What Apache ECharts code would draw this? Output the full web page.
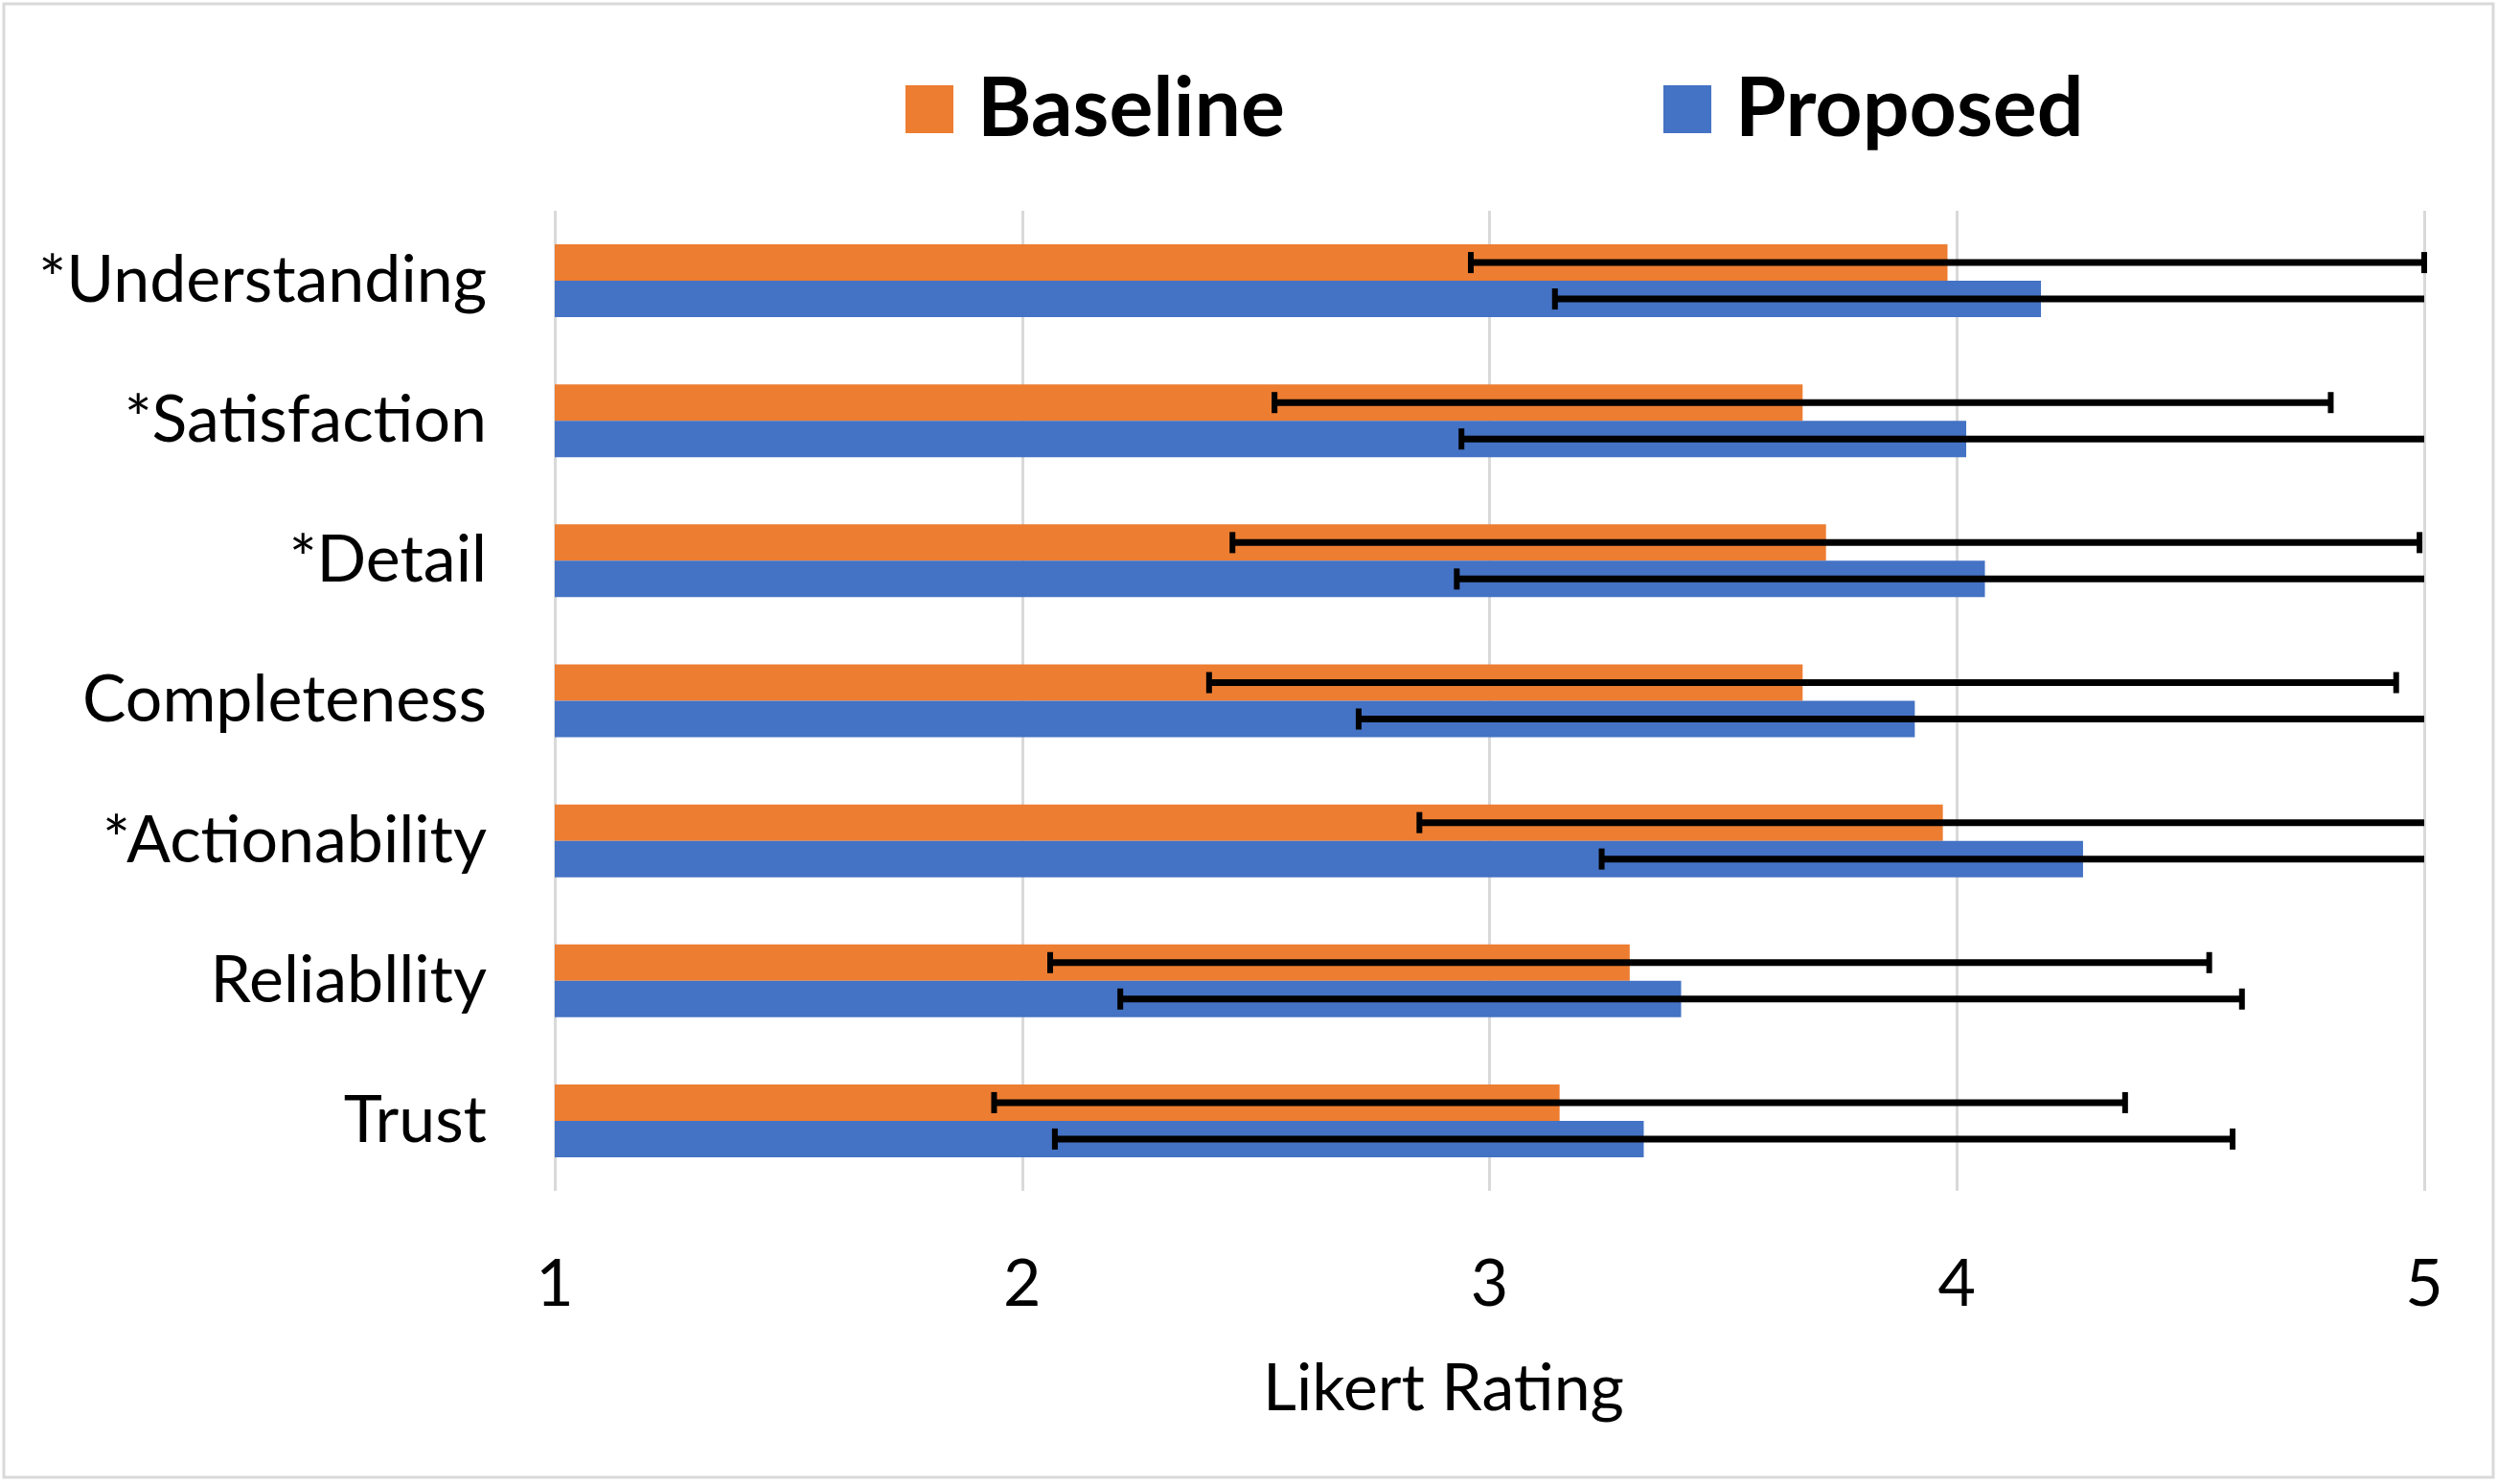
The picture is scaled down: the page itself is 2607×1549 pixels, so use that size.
<!DOCTYPE html>
<html>
<head>
<meta charset="utf-8">
<script src="https://cdn.jsdelivr.net/npm/echarts@6/dist/echarts.min.js"></script>
<style>
  html, body { margin: 0; padding: 0; background: #fff; }
  #chart { width: 2607px; height: 1549px; }
</style>
</head>
<body>
<div id="chart"></div>
<script>
const categories = ['*Understanding', '*Satisfaction', '*Detail', 'Completeness', '*Actionability', 'Reliabllity', 'Trust'];
const baseline = [3.98, 3.67, 3.72, 3.67, 3.97, 3.30, 3.15];
const baselineSd = [1.02, 1.13, 1.27, 1.27, 1.12, 1.24, 1.21];
const proposed = [4.18, 4.02, 4.06, 3.91, 4.27, 3.41, 3.33];
const proposedSd = [1.04, 1.08, 1.13, 1.19, 1.03, 1.20, 1.26];
const xTicks = [1, 2, 3, 4, 5];

const FONT = 'Lato';
const AXIS_MAX = xTicks[xTicks.length - 1];
const BAR_SHARE = 0.26; // bar width as part of the category band

const chart = echarts.init(document.getElementById('chart'));

function errorData(means, sds) {
    return means.map((m, i) => [i, m - sds[i], m + sds[i]]);
}

// draws one horizontal error bar, shifted to sit on its own bar
function errorRenderer(side) {
    return function (params, api) {
        const idx = api.value(0);
        const lo = api.value(1);
        const hi = api.value(2);
        const band = api.size([0, 1])[1];
        const off = side * band * BAR_SHARE / 2;
        const p0 = api.coord([lo, idx]);
        const p1 = api.coord([Math.min(hi, AXIS_MAX), idx]);
        const y = p0[1] + off;
        const capH = 11;
        const capStyle = { stroke: '#000', lineWidth: 6 };
        const children = [
            { type: 'line', shape: { x1: p0[0], y1: y, x2: p1[0], y2: y }, style: { stroke: '#000', lineWidth: 7 } },
            { type: 'line', shape: { x1: p0[0], y1: y - capH, x2: p0[0], y2: y + capH }, style: capStyle }
        ];
        if (hi <= AXIS_MAX) {
            children.push({ type: 'line', shape: { x1: p1[0], y1: y - capH, x2: p1[0], y2: y + capH }, style: capStyle });
        }
        return { type: 'group', children };
    };
}

chart.setOption({
    animation: false,
    backgroundColor: '#fff',
    graphic: [{
        type: 'rect',
        shape: { x: 4, y: 4, width: 2598, height: 1538 },
        style: { fill: 'none', stroke: '#d9d9d9', lineWidth: 3 }
    }],
    legend: {
        data: ['Baseline', 'Proposed'],
        left: 940,
        top: 66,
        icon: 'rect',
        itemWidth: 50,
        itemHeight: 50,
        itemGap: 395,
        textStyle: { fontFamily: FONT, fontSize: 86, fontWeight: 'bold', color: '#000', padding: [0, 0, 0, 20] }
    },
    grid: { left: 579, right: 77, top: 220, bottom: 306 },
    xAxis: {
        type: 'value',
        min: xTicks[0],
        max: AXIS_MAX,
        interval: 1,
        name: 'Likert Rating',
        nameLocation: 'middle',
        nameGap: 173,
        nameTextStyle: { fontFamily: FONT, fontSize: 68, color: '#000', padding: [0, 96, 0, 0] },
        axisLine: { show: false },
        axisTick: { show: false },
        axisLabel: { fontFamily: FONT, fontSize: 68, color: '#000', margin: 64 },
        splitLine: { show: true, lineStyle: { color: '#d9d9d9', width: 3 } }
    },
    yAxis: {
        type: 'category',
        data: categories,
        inverse: true,
        axisLine: { show: false },
        axisTick: { show: false },
        axisLabel: { fontFamily: FONT, fontSize: 68, color: '#000', margin: 71 }
    },
    series: [
        {
            name: 'Baseline',
            type: 'bar',
            data: baseline,
            barGap: '0%',
            barCategoryGap: '48%',
            itemStyle: { color: '#ED7D31' }
        },
        {
            name: 'Proposed',
            type: 'bar',
            data: proposed,
            barGap: '0%',
            barCategoryGap: '48%',
            itemStyle: { color: '#4472C4' }
        },
        {
            type: 'custom',
            renderItem: errorRenderer(-1),
            data: errorData(baseline, baselineSd),
            encode: { y: 0, x: [1, 2] },
            z: 10
        },
        {
            type: 'custom',
            renderItem: errorRenderer(1),
            data: errorData(proposed, proposedSd),
            encode: { y: 0, x: [1, 2] },
            z: 10
        }
    ]
});
</script>
</body>
</html>
